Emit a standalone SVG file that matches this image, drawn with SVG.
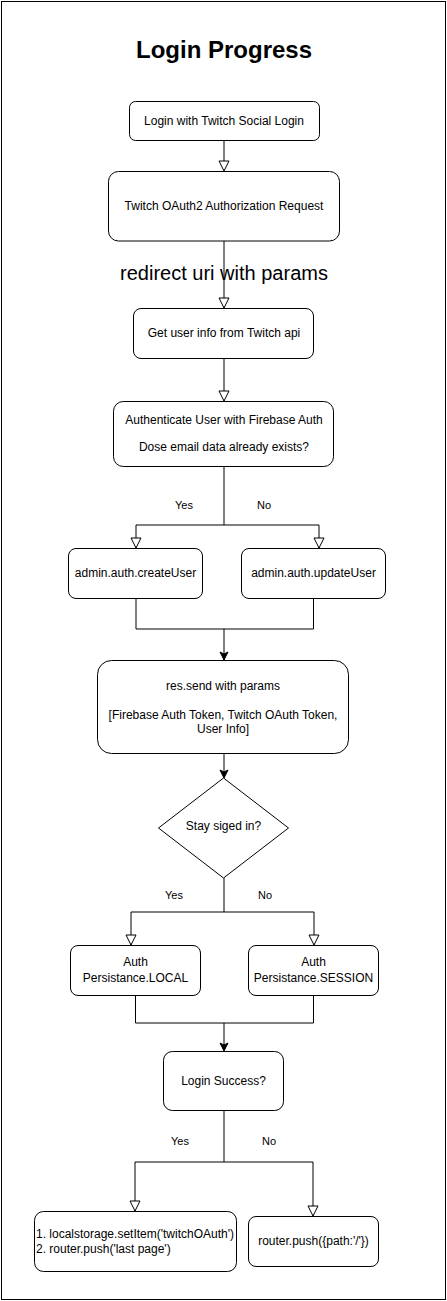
<svg xmlns="http://www.w3.org/2000/svg" width="447" height="1301" viewBox="0 0 447 1301">
<style>
.box{fill:#fff;stroke:#000;stroke-width:1}
.t{font-family:"Liberation Sans",Arial,sans-serif;font-size:12px;fill:#000;text-anchor:middle}
.lbl{font-family:"Liberation Sans",Arial,sans-serif;font-size:11px;fill:#000;text-anchor:middle}
.c{fill:none;stroke:#000;stroke-width:1}
.o{marker-end:url(#open)}
.f{marker-end:url(#fill)}
</style>
<defs>
<marker id="open" markerUnits="userSpaceOnUse" markerWidth="12" markerHeight="12" viewBox="0 0 12 12" refX="11" refY="6" orient="auto" overflow="visible">
<path d="M1,1 L11,6 L1,11 Z" fill="#fff" stroke="#000" stroke-width="1"/>
</marker>
<marker id="fill" markerUnits="userSpaceOnUse" markerWidth="10" markerHeight="10" viewBox="0 0 10 10" refX="9" refY="5" orient="auto" overflow="visible">
<path d="M1,1 L9,5 L1,9 L3,5 Z" fill="#000" stroke="#000" stroke-width="1"/>
</marker>
</defs>
<rect x="1.5" y="1.5" width="444" height="1298" fill="#fff" stroke="#000" stroke-width="1"/>
<text x="224" y="58" font-family="Liberation Sans,Arial,sans-serif" font-size="24" font-weight="bold" text-anchor="middle" fill="#000">Login Progress</text>
<g id="connectors">
<path class="c o" d="M224,141 V171"/>
<path class="c o" d="M224,241 V308"/>
<path class="c o" d="M224,358 V401"/>
<path class="c o" d="M224,466 V525 H136 V548"/>
<path class="c o" d="M224,525 H319 V548"/>
<path class="c" d="M136,598 V629 H313.5 V598"/>
<path class="c f" d="M224,629 V660"/>
<path class="c f" d="M224,753 V778"/>
<path class="c o" d="M224,878 V912 H131 V945"/>
<path class="c o" d="M224,912 H314 V945"/>
<path class="c" d="M135.5,995 V1023 H313.5 V995"/>
<path class="c f" d="M224,1023 V1051"/>
<path class="c o" d="M224,1110 V1162 H135 V1211"/>
<path class="c o" d="M224,1162 H313 V1216"/>
<text x="224" y="280" font-family="Liberation Sans,Arial,sans-serif" font-size="20" text-anchor="middle" fill="#000">redirect uri with params</text>
<text class="lbl" x="184" y="509">Yes</text>
<text class="lbl" x="264" y="509">No</text>
<text class="lbl" x="174" y="899">Yes</text>
<text class="lbl" x="265" y="899">No</text>
<text class="lbl" x="180" y="1145">Yes</text>
<text class="lbl" x="269" y="1145">No</text>
</g>
<g id="n1">
<rect class="box" x="129.5" y="101.5" width="190" height="39" rx="6"/>
<text class="t" x="224" y="125">Login with Twitch Social Login</text>
</g>
<g id="n2">
<rect class="box" x="108.5" y="171.5" width="231" height="69.5" rx="10"/>
<text class="t" x="224" y="210">Twitch OAuth2 Authorization Request</text>
</g>
<g id="n3">
<rect class="box" x="133.5" y="308.5" width="180" height="50" rx="7.5"/>
<text class="t" x="224" y="337">Get user info from Twitch api</text>
</g>
<g id="n4">
<rect class="box" x="113.5" y="401.5" width="220" height="65" rx="9.75"/>
<text class="t" x="224" y="424">Authenticate User with Firebase Auth</text>
<text class="t" x="224" y="451">Dose email data already exists?</text>
</g>
<g id="n5">
<rect class="box" x="68.5" y="548.5" width="134" height="50" rx="7.5"/>
<text class="t" x="135.5" y="577">admin.auth.createUser</text>
</g>
<g id="n6">
<rect class="box" x="241.5" y="548.5" width="144" height="50" rx="7.5"/>
<text class="t" x="313.5" y="577">admin.auth.updateUser</text>
</g>
<g id="n7">
<rect class="box" x="97.5" y="660.5" width="251" height="93" rx="14"/>
<text class="t" x="223" y="690">res.send with params</text>
<text class="t" x="223" y="719">[Firebase Auth Token, Twitch OAuth Token,</text>
<text class="t" x="223" y="733">User Info]</text>
</g>
<g id="n8">
<polygon class="box" points="223.5,778 288.5,828 223.5,878 158.5,828"/>
<text class="t" x="223.5" y="830">Stay siged in?</text>
</g>
<g id="n9">
<rect class="box" x="70.5" y="945.5" width="130" height="50" rx="7.5"/>
<text class="t" x="135.5" y="966">Auth</text>
<text class="t" x="135.5" y="982">Persistance.LOCAL</text>
</g>
<g id="n10">
<rect class="box" x="248.5" y="945.5" width="130" height="50" rx="7.5"/>
<text class="t" x="313.5" y="966">Auth</text>
<text class="t" x="313.5" y="982">Persistance.SESSION</text>
</g>
<g id="n11">
<rect class="box" x="163.5" y="1051.5" width="120" height="59" rx="8.85"/>
<text class="t" x="223.5" y="1085">Login Success?</text>
</g>
<g id="n12">
<rect class="box" x="34.5" y="1211.5" width="202" height="60" rx="9"/>
<text class="t" x="36" y="1238" text-anchor="start" style="text-anchor:start">1. localstorage.setItem('twitchOAuth')</text>
<text class="t" x="36" y="1253" style="text-anchor:start">2. router.push('last page')</text>
</g>
<g id="n13">
<rect class="box" x="248.5" y="1216.5" width="130" height="50" rx="7.5"/>
<text class="t" x="313.5" y="1245">router.push({path:'/'})</text>
</g>
</svg>
